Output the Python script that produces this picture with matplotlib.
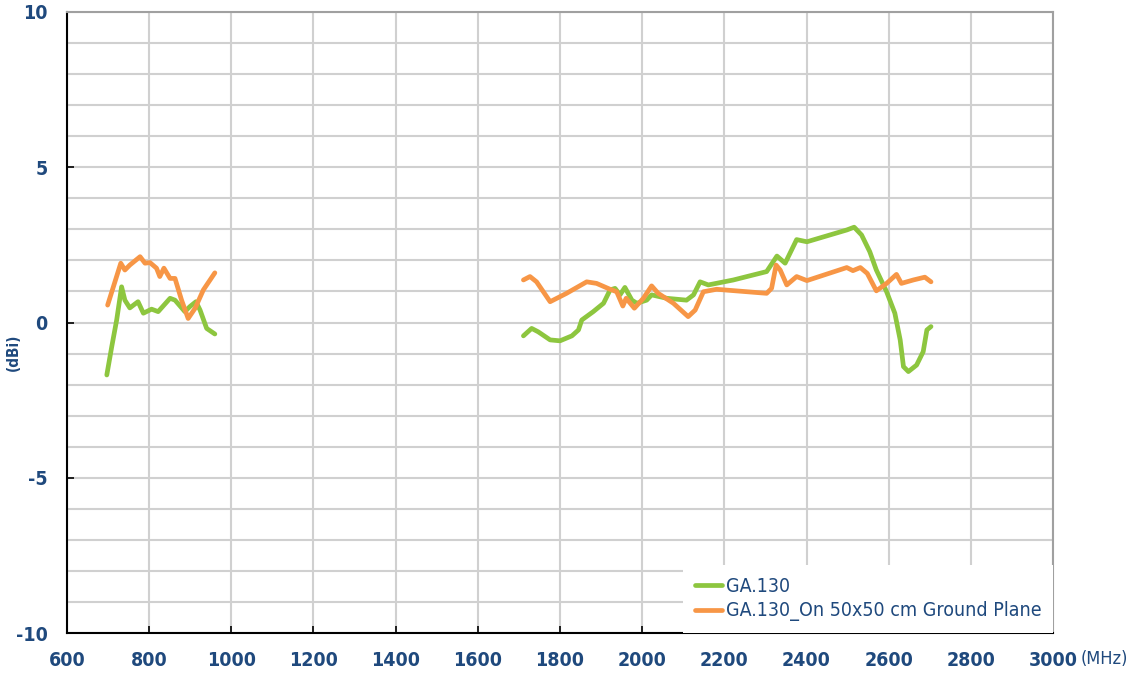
import numpy as np
import matplotlib.pyplot as plt
from matplotlib.ticker import MultipleLocator

# Данные: частота (MHz) и усиление (dBi), две полосы разделены NaN
freq_green = [697, 709, 721, 733, 741, 753, 773, 786, 806, 822, 851, 863, 887, 899, 914, 924, 940, 960,
              np.nan,
              1711, 1731, 1747, 1776, 1800, 1829, 1845, 1853, 1881, 1906, 1922, 1934, 1946, 1958, 1975,
              1987, 2011, 2023, 2060, 2108, 2125, 2141, 2161, 2222, 2303, 2328, 2348, 2376, 2401, 2498,
              2516, 2534, 2554, 2570, 2595, 2615, 2628, 2636, 2648, 2668, 2684, 2693, 2703]
gain_green = [-1.69, -0.78, 0.08, 1.15, 0.72, 0.47, 0.67, 0.30, 0.43, 0.35, 0.78, 0.72, 0.35, 0.51, 0.67, 0.40, -0.19, -0.37,
              np.nan,
              -0.43, -0.19, -0.30, -0.56, -0.59, -0.43, -0.24, 0.08, 0.35, 0.62, 1.05, 1.10, 0.89, 1.13, 0.72,
              0.62, 0.72, 0.89, 0.78, 0.72, 0.89, 1.31, 1.21, 1.37, 1.64, 2.14, 1.91, 2.67, 2.60, 2.98,
              3.07, 2.82, 2.28, 1.69, 0.99, 0.30, -0.56, -1.42, -1.58, -1.37, -0.94, -0.24, -0.13]

freq_orange = [699, 713, 731, 741, 753, 778, 790, 802, 818, 826, 836, 851, 863, 879, 895, 912, 932, 960,
               np.nan,
               1711, 1727, 1743, 1776, 1816, 1865, 1889, 1922, 1938, 1953, 1961, 1981, 2003, 2023, 2039,
               2076, 2112, 2129, 2149, 2181, 2303, 2315, 2326, 2336, 2352, 2376, 2401, 2498, 2513, 2531,
               2548, 2570, 2595, 2619, 2631, 2660, 2688, 2697, 2703]
gain_orange = [0.56, 1.15, 1.91, 1.69, 1.85, 2.12, 1.91, 1.93, 1.75, 1.48, 1.75, 1.42, 1.42, 0.72, 0.13, 0.46, 1.05, 1.60,
               np.nan,
               1.37, 1.48, 1.31, 0.67, 0.94, 1.31, 1.26, 1.07, 0.99, 0.53, 0.78, 0.46, 0.78, 1.18, 0.94,
               0.62, 0.19, 0.40, 0.99, 1.07, 0.94, 1.10, 1.85, 1.69, 1.21, 1.48, 1.35, 1.77, 1.67, 1.77,
               1.58, 1.02, 1.26, 1.55, 1.26, 1.37, 1.46, 1.37, 1.31]

labels = ['GA.130', 'GA.130_On 50x50 cm Ground Plane']

navy = '#1F497D'
plt.rcParams['font.family'] = ['DejaVu Sans']
plt.rcParams['font.stretch'] = 'condensed'
plt.rcParams['axes.unicode_minus'] = False

fig = plt.figure(figsize=(11.29, 6.74), dpi=100)
ax = fig.add_axes([0.0593, 0.0608, 0.8734, 0.9214])

ax.plot(freq_green, gain_green, color='#8DC63F', linewidth=3.4, label=labels[0], solid_capstyle='round')
ax.plot(freq_orange, gain_orange, color='#F79646', linewidth=3.4, label=labels[1], solid_capstyle='round')

ax.set_xlim(600, 3000)
ax.set_ylim(-10, 10)
ax.xaxis.set_major_locator(MultipleLocator(200))
ax.yaxis.set_major_locator(MultipleLocator(5))
ax.yaxis.set_minor_locator(MultipleLocator(1))
ax.grid(which='major', color='#D0D0D0', linewidth=1.5)
ax.grid(which='minor', axis='y', color='#D0D0D0', linewidth=1.5)
ax.set_axisbelow(True)

ax.tick_params(axis='both', which='major', direction='in', length=5, width=1.2,
               labelsize=14, labelcolor=navy)
ax.tick_params(axis='x', pad=13)
ax.tick_params(axis='y', which='minor', length=0)
ax.tick_params(axis='y', pad=14)
for lab in ax.get_xticklabels() + ax.get_yticklabels():
    lab.set_fontweight('bold')
    lab.set_fontstretch('condensed')

for s in ['left', 'bottom']:
    ax.spines[s].set_color('black')
    ax.spines[s].set_linewidth(1.5)
for s in ['top', 'right']:
    ax.spines[s].set_color('#A0A0A0')
    ax.spines[s].set_linewidth(1.5)

fig.text(0.012, 0.478, '(dBi)', rotation=90, ha='center', va='center',
         fontsize=11, fontweight='bold', color=navy)
fig.text(0.957, 0.022, '(MHz)', ha='left', va='center', fontsize=13, color=navy)

leg = ax.legend(loc='lower right', borderaxespad=0, frameon=True, fancybox=False,
                edgecolor='none', framealpha=1, fontsize=14, handlelength=1.4,
                handletextpad=0.2, labelspacing=0.3, borderpad=0.6)
for t in leg.get_texts():
    t.set_color(navy)

plt.savefig('out.png', dpi=100)
